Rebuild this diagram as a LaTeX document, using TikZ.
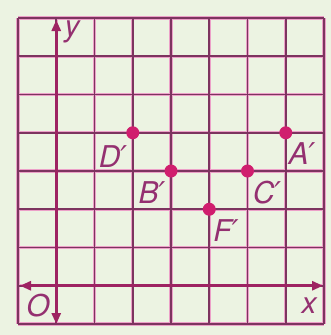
\documentclass[tikz,border=0pt]{standalone}
\usepackage{fontspec}
\setmainfont{TeX Gyre Heros}
\newfontfamily\pf{DejaVu Sans}
\usetikzlibrary{arrows.meta}
\definecolor{bg}{RGB}{236,243,226}
\definecolor{gridc}{RGB}{125,52,95}
\definecolor{halo}{RGB}{236,160,200}
\definecolor{axisc}{RGB}{158,35,98}
\definecolor{dotc}{RGB}{208,30,110}
\definecolor{labc}{RGB}{148,48,112}
\newcommand{\pr}{{\pf\itshape ′}}
\tikzset{
  gridline/.style={draw=gridc,line width=1.7pt},
  halo line/.style={draw=halo,line width=3.4pt},
  axisline/.style={draw=axisc,line width=3pt,-{Triangle[length=11pt,width=9pt]}},
  ptdot/.style={circle,fill=dotc,inner sep=0pt,minimum size=13pt},
  lab/.style={text=labc,font=\fontsize{30}{30}\selectfont\itshape,inner sep=0pt}
}
\begin{document}
\begin{tikzpicture}[x=1pt,y=-1pt]
\fill[bg] (0,0) rectangle (331,335);
\useasboundingbox (0,0) rectangle (331,335);
% grid: 8 cells from 18 to 324
\foreach \i in {0,...,8}{
  \pgfmathsetmacro{\p}{18+\i*38.25}
  \draw[halo line] (\p,18) -- (\p,324);
  \draw[halo line] (18,\p) -- (324,\p);
}
\foreach \i in {0,...,8}{
  \pgfmathsetmacro{\p}{18+\i*38.25}
  \draw[gridline] (\p,18) -- (\p,324);
  \draw[gridline] (18,\p) -- (324,\p);
}
% axes
\coordinate (O) at (56.25,285.75);
\coordinate (ytop) at (56.25,20);
\coordinate (ybot) at (56.25,324);
\coordinate (xl) at (20,285.75);
\coordinate (xr) at (323,285.75);
\draw[axisline] (O) -- (ytop);
\draw[axisline] (O) -- (ybot);
\draw[axisline] (O) -- (xl);
\draw[axisline] (O) -- (xr);
% points
\node[ptdot] (D) at (132.75,132.75) {};
\node[ptdot] (A) at (285.75,132.75) {};
\node[ptdot] (B) at (171,171) {};
\node[ptdot] (C) at (247.5,171) {};
\node[ptdot] (F) at (209.25,209.25) {};
% labels
\node[lab] (ly) at (72,32) {y};
\node[lab] (lO) at (38,306) {O};
\node[lab] (lx) at (309,306) {x};
\node[lab] (lD) at (113,157) {D\pr};
\node[lab] (lA) at (302,154) {A\pr};
\node[lab] (lB) at (152,193) {B\pr};
\node[lab] (lC) at (267,193) {C\pr};
\node[lab] (lF) at (226,231) {F\pr};
\end{tikzpicture}
\end{document}
